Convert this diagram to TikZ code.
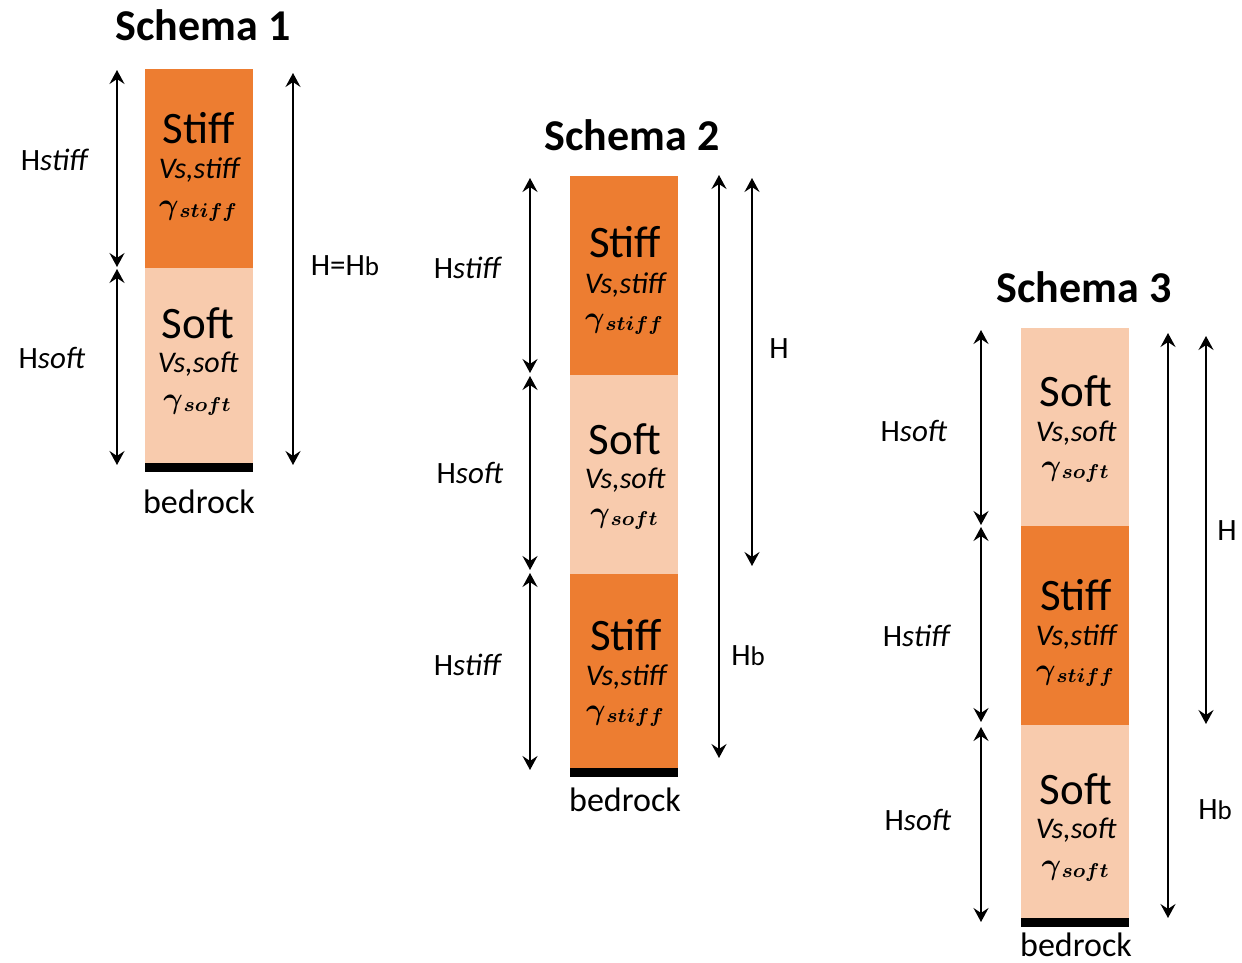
\documentclass[tikz,border=0pt]{standalone}
\usepackage{fontspec}
\setmainfont{Carlito}
\usetikzlibrary{arrows.meta}
\definecolor{stiffc}{HTML}{ED7D31}
\definecolor{softc}{HTML}{F8CBAD}
\tikzset{
  layer/.style={anchor=north west, minimum width=108pt, inner sep=0pt, outer sep=0pt, draw=none},
  stiffL/.style={layer, fill=stiffc},
  softL/.style={layer, fill=softc},
  rock/.style={anchor=north west, minimum width=108pt, minimum height=8.5pt, inner sep=0pt, fill=black},
  tip/.tip={Stealth[length=14pt,width=15pt,inset=5pt]},
  dimline/.style={line width=2.3pt, tip-tip},
  ttl/.style={font=\fontsize{44}{48}\selectfont\bfseries, inner sep=0pt},
  bigw/.style={font=\fontsize{45}{50}\selectfont, inner sep=0pt},
  vsw/.style={font=\fontsize{30}{34}\selectfont\itshape, inner sep=0pt},
  gmw/.style={inner sep=0pt, scale=2.5},
  lbl/.style={font=\fontsize{31}{35}\selectfont, inner sep=0pt},
  rockw/.style={font=\fontsize{34}{38}\selectfont, inner sep=0pt},
}
\newcommand\Hb{H{\fontsize{27}{30}\selectfont b}}
\newcommand\gam[1]{{\boldmath\fontsize{12}{14}\selectfont$\gamma$}\kern0.2pt\raisebox{-1.2pt}{\boldmath\fontsize{8}{10}\selectfont$#1$}}
\begin{document}
\begin{tikzpicture}[x=1pt,y=-1pt]
\useasboundingbox (0,0) rectangle (1242,963);
% ---------------- Schema 1
\node[ttl] (t1) at (203,25) {Schema 1};
\node[stiffL, minimum height=199pt] (a1) at (145,69) {};
\node[softL, minimum height=195pt] (a2) at (145,268) {};
\node[rock] (ar) at (145,463) {};
\node[rockw] (arw) at (199,502) {bedrock};
\node[bigw] (a1w) at (199,128) {Stiff};
\node[vsw] (a1v) at (199,170) {Vs,stiff};
\node[gmw] (a1g) at (198,211) {\gam{stiff}};
\node[bigw] (a2w) at (198,323) {Soft};
\node[vsw] (a2v) at (198,364) {Vs,soft};
\node[gmw] (a2g) at (197,405) {\gam{soft}};
\coordinate (p1) at (117,70);
\coordinate (p2) at (117,267);
\coordinate (p3) at (117,269);
\coordinate (p4) at (117,465);
\coordinate (q1) at (293,73);
\coordinate (q2) at (293,465);
\draw[dimline] (p1) -- (p2);
\draw[dimline] (p3) -- (p4);
\draw[dimline] (q1) -- (q2);
\node[lbl] (l1) at (55,160) {H\textit{stiff}};
\node[lbl] (l2) at (52,358) {H\textit{soft}};
\node[lbl] (l3) at (345,266) {H=\Hb};
% ---------------- Schema 2
\node[ttl] (t2) at (632,135) {Schema 2};
\node[stiffL, minimum height=199pt] (b1) at (570,176) {};
\node[softL, minimum height=199pt] (b2) at (570,375) {};
\node[stiffL, minimum height=194pt] (b3) at (570,574) {};
\node[rock] (br) at (570,768) {};
\node[rockw] (brw) at (625,800) {bedrock};
\node[bigw] (b1w) at (625,242) {Stiff};
\node[vsw] (b1v) at (625,285) {Vs,stiff};
\node[gmw] (b1g) at (624,324) {\gam{stiff}};
\node[bigw] (b2w) at (625,439) {Soft};
\node[vsw] (b2v) at (625,480) {Vs,soft};
\node[gmw] (b2g) at (624,519) {\gam{soft}};
\node[bigw] (b3w) at (626,635) {Stiff};
\node[vsw] (b3v) at (626,677) {Vs,stiff};
\node[gmw] (b3g) at (625,716) {\gam{stiff}};
\coordinate (r1) at (530,178);
\coordinate (r2) at (530,373);
\coordinate (r3) at (530,376);
\coordinate (r4) at (530,570);
\coordinate (r5) at (530,573);
\coordinate (r6) at (530,770);
\coordinate (s1) at (719,175);
\coordinate (s2) at (719,758);
\coordinate (s3) at (752,178);
\coordinate (s4) at (752,566);
\draw[dimline] (r1) -- (r2);
\draw[dimline] (r3) -- (r4);
\draw[dimline] (r5) -- (r6);
\draw[dimline] (s1) -- (s2);
\draw[dimline] (s3) -- (s4);
\node[lbl] (m1) at (468,268) {H\textit{stiff}};
\node[lbl] (m2) at (470,473) {H\textit{soft}};
\node[lbl] (m3) at (468,665) {H\textit{stiff}};
\node[lbl] (m4) at (779,349) {H};
\node[lbl] (m5) at (748,656) {\Hb};
% ---------------- Schema 3
\node[ttl] (t3) at (1084,287) {Schema 3};
\node[softL, minimum height=198pt] (c1) at (1021,328) {};
\node[stiffL, minimum height=199pt] (c2) at (1021,526) {};
\node[softL, minimum height=193pt] (c3) at (1021,725) {};
\node[rock] (cr) at (1021,918) {};
\node[rockw] (crw) at (1076,945) {bedrock};
\node[bigw] (c1w) at (1076,391) {Soft};
\node[vsw] (c1v) at (1076,433) {Vs,soft};
\node[gmw] (c1g) at (1075,472) {\gam{soft}};
\node[bigw] (c2w) at (1076,595) {Stiff};
\node[vsw] (c2v) at (1076,637) {Vs,stiff};
\node[gmw] (c2g) at (1075,676) {\gam{stiff}};
\node[bigw] (c3w) at (1076,789) {Soft};
\node[vsw] (c3v) at (1076,830) {Vs,soft};
\node[gmw] (c3g) at (1075,871) {\gam{soft}};
\coordinate (u1) at (981,330);
\coordinate (u2) at (981,525);
\coordinate (u3) at (981,527);
\coordinate (u4) at (981,722);
\coordinate (u5) at (981,727);
\coordinate (u6) at (981,922);
\coordinate (v1) at (1168,333);
\coordinate (v2) at (1168,918);
\coordinate (v3) at (1206,336);
\coordinate (v4) at (1206,724);
\draw[dimline] (u1) -- (u2);
\draw[dimline] (u3) -- (u4);
\draw[dimline] (u5) -- (u6);
\draw[dimline] (v1) -- (v2);
\draw[dimline] (v3) -- (v4);
\node[lbl] (n1) at (914,431) {H\textit{soft}};
\node[lbl] (n2) at (917,636) {H\textit{stiff}};
\node[lbl] (n3) at (918,820) {H\textit{soft}};
\node[lbl] (n4) at (1227,531) {H};
\node[lbl] (n5) at (1215,810) {\Hb};
\end{tikzpicture}
\end{document}
